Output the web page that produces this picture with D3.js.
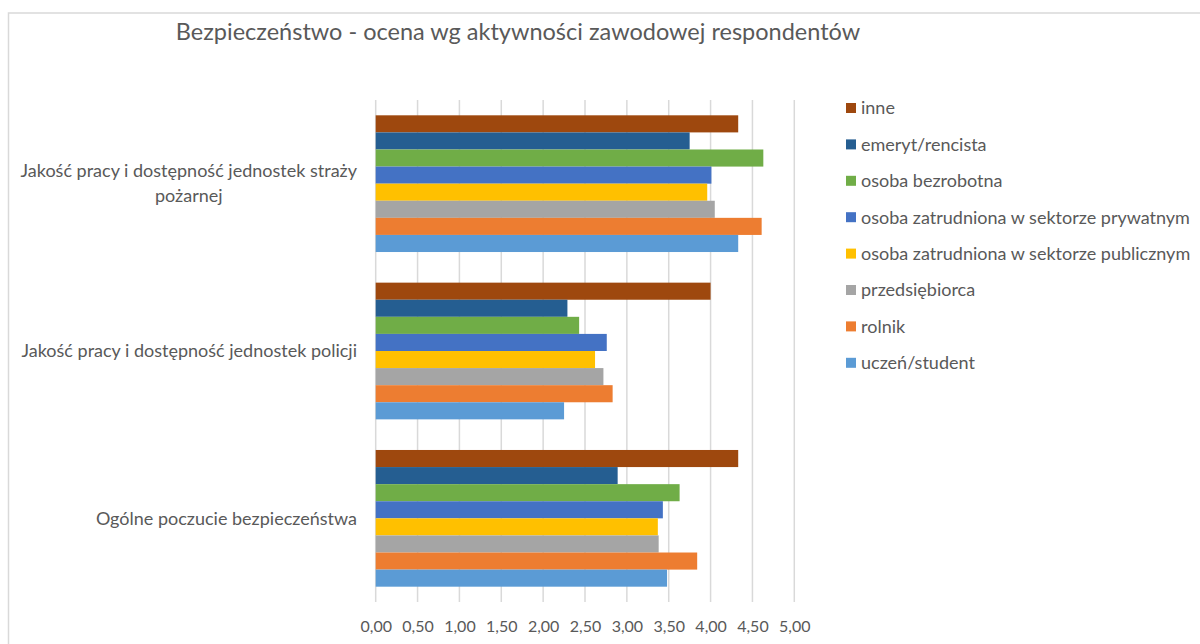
<!DOCTYPE html>
<html>
<head>
<meta charset="utf-8">
<script src="https://cdn.jsdelivr.net/npm/d3@7"></script>
<style>
  html, body { margin: 0; padding: 0; background: #fff; }
  svg { display: block; }
  text { font-family: Lato, "Noto Sans", sans-serif; fill: #595959; }
</style>
</head>
<body>
<svg id="chart" width="1200" height="644"></svg>
<script>
// ---- data ----
const title = "Bezpieczeństwo - ocena wg aktywności zawodowej respondentów";
const categories = [
  "Jakość pracy i dostępność jednostek straży|pożarnej",
  "Jakość pracy i dostępność jednostek policji",
  "Ogólne poczucie bezpieczeństwa"
];
// series listed top-to-bottom (as in the legend)
const seriesNames = [
  "inne",
  "emeryt/rencista",
  "osoba bezrobotna",
  "osoba zatrudniona w sektorze prywatnym",
  "osoba zatrudniona w sektorze publicznym",
  "przedsiębiorca",
  "rolnik",
  "uczeń/student"
];
const seriesColors = ["#9E480E", "#255E91", "#70AD47", "#4472C4", "#FFC000", "#A5A5A5", "#ED7D31", "#5B9BD5"];
// values per series, in category order
const inne          = [4.33, 4.00, 4.33];
const emeryt        = [3.75, 2.29, 2.89];
const bezrobotna    = [4.63, 2.43, 3.63];
const prywatny      = [4.01, 2.76, 3.43];
const publiczny     = [3.96, 2.62, 3.37];
const przedsiebiorca= [4.05, 2.72, 3.38];
const rolnik        = [4.61, 2.83, 3.84];
const uczen         = [4.33, 2.25, 3.48];
const seriesValues = [inne, emeryt, bezrobotna, prywatny, publiczny, przedsiebiorca, rolnik, uczen];
const tickValues = [0, 0.5, 1, 1.5, 2, 2.5, 3, 3.5, 4, 4.5, 5];

// ---- layout ----
const svg = d3.select("#chart");
const plot = { left: 375.7, right: 794.3, top: 100, bottom: 602 };

// chart frame
svg.append("rect")
  .attr("x", 8.5).attr("y", 13)
  .attr("width", 1400).attr("height", 800)
  .attr("fill", "#fff").attr("stroke", "#d9d9d9").attr("stroke-width", 1.5);

// title
svg.append("text")
  .attr("x", 518).attr("y", 40)
  .attr("text-anchor", "middle")
  .style("font-size", "23.5px")
  .text(title);

const x = d3.scaleLinear().domain([0, 5]).range([plot.left, plot.right]);
const y = d3.scaleBand().domain(categories).range([plot.top, plot.bottom])
  .paddingInner(0.183).paddingOuter(0.0915);
const ySub = d3.scaleBand().domain(seriesNames).range([0, y.bandwidth()]).padding(0);

const locale = d3.formatLocale({ decimal: ",", thousands: " ", grouping: [3], currency: ["", " zł"] });
const fmt = locale.format(".2f");

// gridlines
svg.append("g").selectAll("line").data(tickValues).join("line")
  .attr("x1", d => x(d)).attr("x2", d => x(d))
  .attr("y1", plot.top).attr("y2", plot.bottom)
  .attr("stroke", "#d9d9d9").attr("stroke-width", 1.5);

// bars
const groups = svg.append("g").selectAll("g").data(seriesNames).join("g")
  .attr("fill", (d, i) => seriesColors[i]);
groups.selectAll("rect")
  .data((s, i) => categories.map((c, j) => ({ c, s, v: seriesValues[i][j] })))
  .join("rect")
  .attr("x", x(0))
  .attr("y", d => y(d.c) + ySub(d.s))
  .attr("width", d => x(d.v) - x(0))
  .attr("height", ySub.bandwidth());

// x axis labels
const xAxis = d3.axisBottom(x).tickValues(tickValues).tickFormat(fmt).tickSize(0).tickPadding(0);
const gx = svg.append("g").attr("transform", `translate(0, ${plot.bottom + 19})`).call(xAxis);
gx.select(".domain").remove();
gx.selectAll("text").style("font-size", "16px").attr("fill", "#595959")
  .style("font-family", "Lato, 'Noto Sans', sans-serif");

// category labels
const labelRight = 357;
categories.forEach(c => {
  const lines = c.split("|");
  const cy = y(c) + y.bandwidth() / 2;
  const lh = 25;
  const g = svg.append("g");
  const texts = lines.map((ln, k) => g.append("text")
    .attr("y", cy + (k - (lines.length - 1) / 2) * lh)
    .attr("dy", "0.35em")
    .style("font-size", "18px")
    .text(ln));
  if (lines.length === 1) {
    texts[0].attr("x", labelRight).attr("text-anchor", "end");
  } else {
    const maxW = d3.max(texts, t => t.node().getComputedTextLength());
    texts.forEach(t => t.attr("x", labelRight - maxW / 2).attr("text-anchor", "middle"));
  }
});

// legend
const legend = svg.append("g").attr("transform", "translate(846, 108)");
const li = legend.selectAll("g").data(seriesNames).join("g")
  .attr("transform", (d, i) => `translate(0, ${i * 36.4})`);
li.append("rect").attr("x", 0).attr("y", -5).attr("width", 10).attr("height", 10)
  .attr("fill", (d, i) => seriesColors[i]);
li.append("text").attr("x", 15).attr("y", 0).attr("dy", "0.35em")
  .style("font-size", "18px").text(d => d);
</script>
</body>
</html>
